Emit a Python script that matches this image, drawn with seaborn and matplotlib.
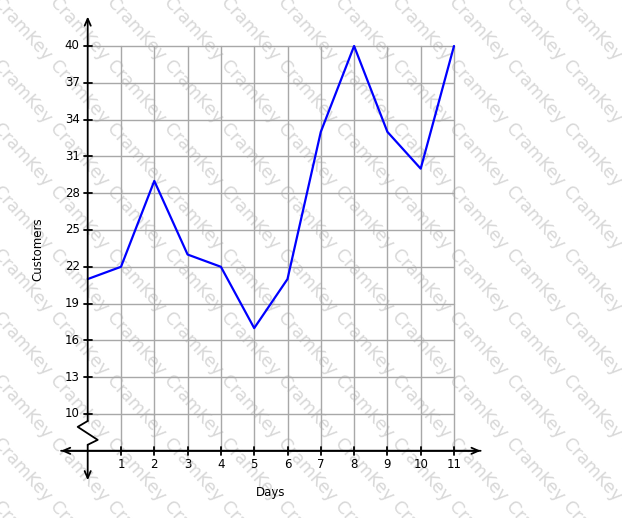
import numpy as np
import matplotlib
matplotlib.use("Agg")
import matplotlib.pyplot as plt
import seaborn as sns
from matplotlib.patches import FancyArrowPatch

# Data
days = [0, 1, 2, 3, 4, 5, 6, 7, 8, 9, 10, 11]
customers = [21, 22, 29, 23, 22, 17, 21, 33, 40, 33, 30, 40]
x_ticks = [1, 2, 3, 4, 5, 6, 7, 8, 9, 10, 11]
y_ticks = [10, 13, 16, 19, 22, 25, 28, 31, 34, 37, 40]

sns.set_style("white")
plt.rcParams['font.family'] = ['DejaVu Sans']
plt.rcParams['text.color'] = 'black'

W, H = 622, 518
fig = plt.figure(figsize=(W / 100, H / 100), dpi=100)
ax = fig.add_axes([0, 0, 1, 1])
ax.axis('off')
ax.patch.set_alpha(0)

# pixel -> data mapping (x0 at 87.7px, 33.3 px/unit; y=7 at 450.8px, 12.267 px/unit)
px_x, x0 = 33.3, 87.7
px_y, y7 = 12.267, 450.8
ax.set_xlim((0 - x0) / px_x, (W - x0) / px_x)
ax.set_ylim(7 - (H - y7) / px_y, 7 + y7 / px_y)

# grid
grid_col = '#a8a8a8'
for x in x_ticks:
    ax.plot([x, x], [7, 40], color=grid_col, lw=1, zorder=1)
for y in y_ticks:
    ax.plot([0, 11], [y, y], color=grid_col, lw=1, zorder=1)

# data line
sns.lineplot(x=days, y=customers, color='blue', lw=1.6, ax=ax, zorder=3)

# axes with arrows
arrow_kw = dict(arrowstyle='->,head_length=0.5,head_width=0.22', color='black', lw=1.3,
                mutation_scale=10, shrinkA=0, shrinkB=0, zorder=4)
ax.add_patch(FancyArrowPatch((-0.8, 7), (11.8, 7), **arrow_kw))
ax.add_patch(FancyArrowPatch((-0.8, 7), (11.8, 7),
                             **{**arrow_kw, 'arrowstyle': '<-,head_length=0.5,head_width=0.22'}))
ax.add_patch(FancyArrowPatch((0, 9.43), (0, 42.4), **arrow_kw))
ax.add_patch(FancyArrowPatch((0, 7.49), (0, 4.6), **arrow_kw))
# axis break zigzag
ax.plot([0, -0.3, 0.3, 0, 0], [9.43, 8.95, 7.89, 7.49, 7.49], color='black', lw=1.3, zorder=4)

# ticks and labels
for x in x_ticks:
    ax.plot([x, x], [7 - 0.33, 7 + 0.33], color='black', lw=1.3, zorder=4)
    ax.text(x, 6.45, str(x), ha='center', va='top', fontsize=8.5)
for y in y_ticks:
    ax.plot([-0.12, 0.12], [y, y], color='black', lw=1.3, zorder=4)
    ax.text(-0.24, y, str(y), ha='right', va='center', fontsize=8.5)

ax.text(5.5, 3.6, "Days", ha='center', va='center', fontsize=8.5)
ax.text(-1.5, 23.4, "Customers", ha='center', va='center', rotation=90, fontsize=8.5)

# watermark, drawn behind the axes
for row in range(-1, 10):
    for col in range(-2, 12):
        fx = (2 + col * 57) / W
        fy = 1 - (-6 + row * 63) / H
        fig.text(fx, fy, "CramKey", rotation=-48, rotation_mode='anchor',
                 ha='left', va='top', fontsize=12.5, color='#d8d8d8', zorder=-1)

fig.savefig("out.png", dpi=100)
